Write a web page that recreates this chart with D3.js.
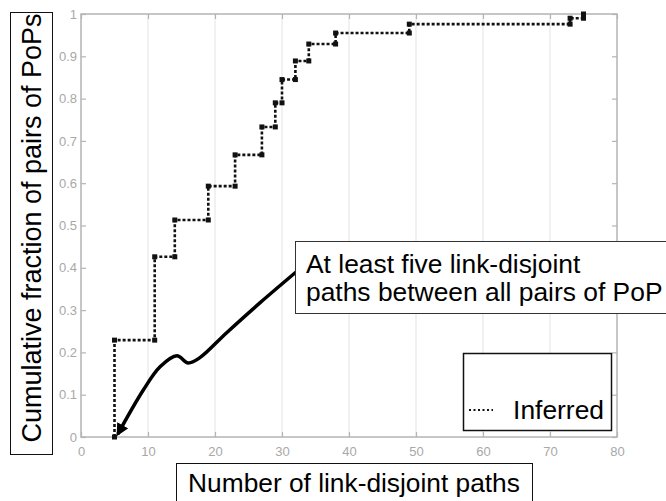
<!DOCTYPE html>
<html><head><meta charset="utf-8">
<script src="https://cdn.jsdelivr.net/npm/d3@7"></script>
<style>
html,body{margin:0;padding:0;background:#fff;}
svg{display:block;font-family:"Liberation Sans",Arial,sans-serif;}
</style></head>
<body>
<svg id="chart" width="666" height="501"></svg>
<script>
// Data
const disjointPaths = [5, 11, 14, 19, 23, 27, 29, 30, 32, 34, 38, 49, 73, 75];
const cumFraction   = [0.229, 0.426, 0.513, 0.593, 0.667, 0.733, 0.79, 0.845, 0.889, 0.929, 0.955, 0.976, 0.99, 1.0];
const xTicks = [0, 10, 20, 30, 40, 50, 60, 70, 80];
const yTicks = [0, 0.1, 0.2, 0.3, 0.4, 0.5, 0.6, 0.7, 0.8, 0.9, 1];
const seriesName = "Inferred";
const xTitle = "Number of link-disjoint paths";
const yTitle = "Cumulative fraction of pairs of PoPs";
const noteLines = ["At least five link-disjoint", "paths between all pairs of PoP"];
// annotation arrow path in data coordinates (from note box to target point)
const arrowX = [32.1, 26.7, 21.7, 17.7, 16.0, 14.3, 11.8, 9.3, 5.5];
const arrowY = [0.390, 0.317, 0.246, 0.187, 0.175, 0.192, 0.166, 0.111, 0.007];

const svg = d3.select("#chart");
const x = d3.scaleLinear().domain([0, 80]).range([81, 617]);
const y = d3.scaleLinear().domain([0, 1]).range([437, 14]);
const axisCol = "#b4b4b4";

// gridlines
svg.append("g").selectAll("line").data(xTicks.slice(1, -1)).join("line")
  .attr("x1", d => x(d)).attr("x2", d => x(d))
  .attr("y1", y(0)).attr("y2", y(1))
  .attr("stroke", "#ececec").attr("stroke-width", 1.5);

// frame
svg.append("rect").attr("x", x(0)).attr("y", y(1))
  .attr("width", x(80) - x(0)).attr("height", y(0) - y(1))
  .attr("fill", "none").attr("stroke", axisCol).attr("stroke-width", 1.5);

// axes
const gx = svg.append("g").attr("transform", `translate(0,${y(0)})`)
  .call(d3.axisBottom(x).tickValues(xTicks).tickSize(-5).tickPadding(11).tickFormat(d3.format("d")));
const gy = svg.append("g").attr("transform", `translate(${x(0)},0)`)
  .call(d3.axisLeft(y).tickValues(yTicks).tickSize(-5).tickPadding(4).tickFormat(d => d === 0 ? "0" : d === 1 ? "1" : d3.format(".1f")(d)));
const gyr = svg.append("g").attr("transform", `translate(${x(80)},0)`)
  .call(d3.axisRight(y).tickValues(yTicks).tickSize(-5).tickFormat(""));
const gxt = svg.append("g").attr("transform", `translate(0,${y(1)})`)
  .call(d3.axisTop(x).tickValues(xTicks).tickSize(-5).tickFormat(""));
[gx, gy, gyr, gxt].forEach(g => {
  g.select(".domain").remove();
  g.selectAll(".tick line").attr("stroke", axisCol).attr("stroke-width", 1.2);
  g.selectAll(".tick text").attr("fill", "#a8a8a8").attr("font-size", 13)
    .attr("font-family", "Liberation Sans, Arial, sans-serif");
});
gx.selectAll(".tick text").attr("dy", "0.6em");

// CDF step line
const pts = [[disjointPaths[0], 0]].concat(disjointPaths.map((d, i) => [d, cumFraction[i]]));
const line = d3.line().x(d => x(d[0])).y(d => y(d[1])).curve(d3.curveStepAfter);
svg.append("path").datum(pts).attr("d", line)
  .attr("fill", "none").attr("stroke", "#111").attr("stroke-width", 2.6)
  .attr("stroke-dasharray", "3,2");

// corner markers
const corners = [];
disjointPaths.forEach((d, i) => {
  corners.push([d, i === 0 ? 0 : cumFraction[i - 1]]);
  corners.push([d, cumFraction[i]]);
});
svg.append("g").selectAll("rect").data(corners).join("rect")
  .attr("x", d => x(d[0]) - 2.5).attr("y", d => y(d[1]) - 2.5)
  .attr("width", 5).attr("height", 5).attr("fill", "#111");

// annotation arrow
const defs = svg.append("defs");
defs.append("marker").attr("id", "ah").attr("viewBox", "0 0 10 10")
  .attr("refX", 8).attr("refY", 5).attr("markerWidth", 3.6).attr("markerHeight", 3.6)
  .attr("markerUnits", "strokeWidth").attr("orient", "auto")
  .append("path").attr("d", "M0,0 L10,5 L0,10 z").attr("fill", "#000");
const arrowPts = arrowX.map((d, i) => [x(d), y(arrowY[i])]);
svg.append("path").datum(arrowPts)
  .attr("d", d3.line().curve(d3.curveCatmullRom.alpha(0.5)))
  .attr("fill", "none").attr("stroke", "#000").attr("stroke-width", 3.5)
  .attr("marker-end", "url(#ah)");

// annotation box
svg.append("rect").attr("x", 295.5).attr("y", 241.5).attr("width", 400).attr("height", 72)
  .attr("fill", "#fff").attr("stroke", "#333").attr("stroke-width", 1);
svg.append("g").selectAll("text").data(noteLines).join("text")
  .attr("x", 306).attr("y", (d, i) => 273 + i * 28)
  .attr("font-size", 26.4).attr("fill", "#000").text(d => d);

// legend
svg.append("rect").attr("x", 463.5).attr("y", 353.5).attr("width", 148).attr("height", 77)
  .attr("fill", "#fff").attr("stroke", "#111").attr("stroke-width", 1.5);
svg.append("line").attr("x1", 469).attr("x2", 493).attr("y1", 410).attr("y2", 410)
  .attr("stroke", "#111").attr("stroke-width", 2).attr("stroke-dasharray", "2,2.5");
svg.append("text").attr("x", 604).attr("y", 419).attr("text-anchor", "end")
  .attr("font-size", 26.4).attr("fill", "#000").text(seriesName);

// y title box
svg.append("rect").attr("x", 10.5).attr("y", 12.5).attr("width", 42).attr("height", 442)
  .attr("fill", "#fff").attr("stroke", "#111").attr("stroke-width", 1);
svg.append("text").attr("transform", "translate(41,228) rotate(-90)")
  .attr("text-anchor", "middle").attr("font-size", 27).attr("fill", "#000").text(yTitle);

// x title box
svg.append("rect").attr("x", 176.5).attr("y", 463.5).attr("width", 356).attr("height", 50)
  .attr("fill", "#fff").attr("stroke", "#111").attr("stroke-width", 1);
svg.append("text").attr("x", 354).attr("y", 492).attr("text-anchor", "middle")
  .attr("font-size", 26.3).attr("fill", "#000").text(xTitle);
</script>
</body></html>
